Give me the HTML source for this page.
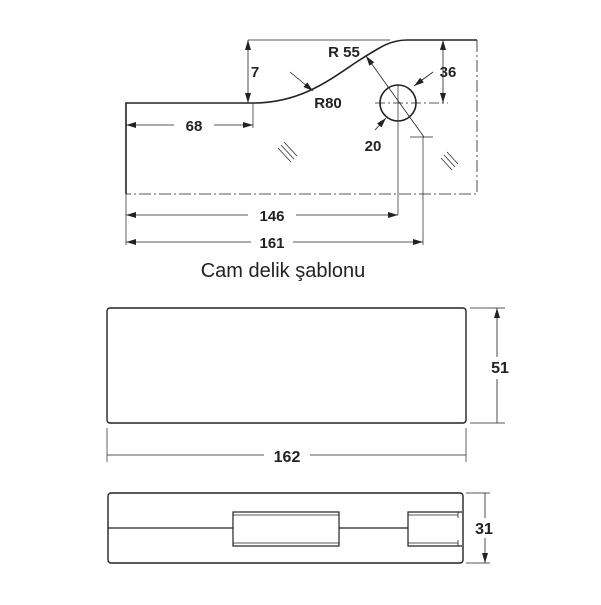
<!DOCTYPE html>
<html><head><meta charset="utf-8"><style>body{margin:0;background:#fff}</style></head><body>
<svg width="601" height="600" viewBox="0 0 601 600" xmlns="http://www.w3.org/2000/svg" font-family="Liberation Sans, sans-serif">
<defs><marker id="a" viewBox="0 0 10 6" refX="10" refY="3" markerWidth="10" markerHeight="6" orient="auto-start-reverse" markerUnits="userSpaceOnUse"><path d="M0,0L10,3L0,6z" fill="#222"/></marker></defs>
<g stroke="#222" fill="none">
<path d="M126,194V103H253C300,103 330,80 355,63C380,47 390,40 407,40H477" stroke-width="1.6"/>
<path d="M248,40H390" stroke-width="0.8"/>
<path d="M477,40V194H126" stroke-width="0.8" stroke-dasharray="12,3,2,3"/>
<circle cx="398" cy="103" r="18" stroke-width="1.6"/>
<path d="M375,103H448" stroke-width="0.7" stroke-dasharray="10,3,2,3"/>
<path d="M398,85V215M423,137V245M410,137H433M126,194V245M253,103V128" stroke-width="0.7"/>
<g stroke-width="0.8" marker-start="url(#a)" marker-end="url(#a)">
<path d="M248,40V103"/><path d="M126,125H253"/><path d="M126,215H398"/><path d="M126,242H423"/><path d="M443,40V103"/>
</g>
<path d="M366,56L424,137" stroke-width="0.8" marker-start="url(#a)"/>
<path d="M290,72L313,91" stroke-width="0.8" marker-end="url(#a)"/>
<path d="M375,130L386,118" stroke-width="0.8" marker-end="url(#a)"/>
<path d="M433,72L414,86" stroke-width="0.8" marker-end="url(#a)"/>
<path d="M278,148L291,162M281,145L294,159M284,142L297,156M441,158L452,170M444,155L455,167M447,152L458,164" stroke-width="0.7"/>
<rect x="107" y="308" width="359" height="115" rx="3" stroke-width="1.4"/>
<path d="M470,308H505M470,423H505M107,428V462M466,428V462" stroke-width="0.7"/>
<path d="M497,308V423M107,455H466M485,493V563" stroke-width="0.8" marker-start="url(#a)" marker-end="url(#a)"/>
<rect x="108" y="493" width="355" height="70" rx="3" stroke-width="1.4"/>
<path d="M108,528H233M339,528H408" stroke-width="1.2"/>
<rect x="233" y="512" width="106" height="34" stroke-width="1.2"/>
<path d="M233,515H339M233,543H339M408,515H458M408,543H458" stroke-width="0.8"/>
<path d="M462,512H408V546H462" stroke-width="1.2"/>
<path d="M458,512V518M458,540V546" stroke-width="0.8"/>
<path d="M466,493H490M466,563H490" stroke-width="0.7"/>
</g>
<g font-weight="bold" font-size="15" fill="#222" text-anchor="middle">
<rect x="174" y="116" width="40" height="18" fill="#fff"/><text x="194" y="131">68</text>
<rect x="248" y="206" width="48" height="18" fill="#fff"/><text x="272" y="221">146</text>
<rect x="251" y="233" width="42" height="18" fill="#fff"/><text x="272" y="248">161</text>
<text x="255" y="77">7</text>
<text x="344" y="57">R 55</text>
<text x="328" y="108">R80</text>
<text x="373" y="151">20</text>
<text x="448" y="77">36</text>
<rect x="489" y="357" width="22" height="22" fill="#fff"/><text x="500" y="373" font-size="16">51</text>
<rect x="264" y="446" width="46" height="18" fill="#fff"/><text x="287" y="462" font-size="16">162</text>
<rect x="474" y="518" width="22" height="20" fill="#fff"/><text x="484" y="534" font-size="16">31</text>
</g>
<text x="283" y="277" text-anchor="middle" font-size="20" fill="#222">Cam delik şablonu</text>
</svg>
</body></html>
